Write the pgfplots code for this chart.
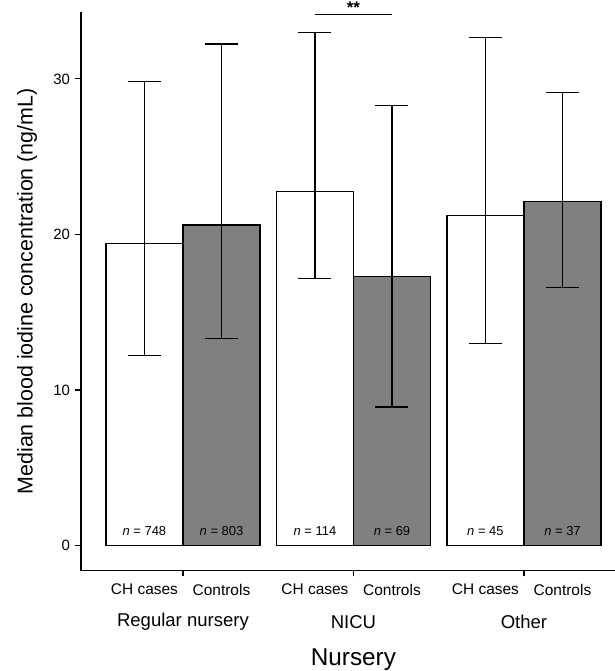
\documentclass[border=0pt]{standalone}
\usepackage{fontspec}
\setmainfont{Liberation Sans}
\usepackage{pgfplots}
\pgfplotsset{compat=1.18}
\definecolor{bargray}{RGB}{128,128,128}
\tikzset{
  nlab/.style={font=\fontsize{13}{15}\selectfont},
  clab/.style={font=\fontsize{15.5}{17}\selectfont, yshift=-18.8bp},
  glab/.style={font=\fontsize{18.6}{20}\selectfont, yshift=-51bp},
}
\begin{document}
\begin{tikzpicture}
\path[use as bounding box] (-81bp,-100.3bp) rectangle (534bp,570.7bp);
\begin{axis}[
  name=ax,
  at={(0,0)}, anchor=south west,
  scale only axis,
  width=534bp, height=558.7bp,
  xmin=0.402, xmax=3.534,
  ymin=-1.62, ymax=34.3,
  axis x line*=bottom, axis y line*=left,
  axis line style={line width=1.3bp},
  ytick={0,10,20,30},
  xtick={1,2,3}, xticklabels={},
  tick align=outside,
  major tick length=5.5bp,
  tick style={line width=1.2bp, black},
  yticklabel style={font=\fontsize{15}{17}\selectfont, xshift=-2bp},
  /pgf/number format/assume math mode=true,
  ylabel={Median blood iodine concentration (ng/mL)},
  ylabel style={font=\fontsize{21.5}{23}\selectfont, at={(axis description cs:-0.101,0.5)}, anchor=center},
  clip=false,
]
\addplot[ybar, bar width=0.452, bar shift=0pt, fill=white, draw=black, line width=1.5bp,
  error bars/.cd, y dir=both, y explicit,
  error bar style={line width=1.3bp, black},
  error mark options={rotate=90, line width=1.3bp, mark size=16.5bp, black}]
  coordinates {
  (0.774,19.43) += (0,10.40) -= (0,7.23)
  (1.774,22.75) += (0,10.25) -= (0,5.57)
  (2.774,21.21) += (0,11.45) -= (0,8.21)
  };
\addplot[ybar, bar width=0.452, bar shift=0pt, fill=bargray, draw=black, line width=1.5bp,
  error bars/.cd, y dir=both, y explicit,
  error bar style={line width=1.3bp, black},
  error mark options={rotate=90, line width=1.3bp, mark size=16.5bp, black}]
  coordinates {
  (1.226,20.59) += (0,11.66) -= (0,7.27)
  (2.226,17.31) += (0,10.97) -= (0,8.41)
  (3.226,22.13) += (0,6.99) -= (0,5.53)
  };
% significance bar
\draw[line width=1.3bp] (axis cs:1.774,34.16) -- (axis cs:2.226,34.16);
\node[anchor=south, font=\fontsize{17}{18}\selectfont\bfseries, inner sep=0pt, yshift=0bp] at (axis cs:2,34.16) {**};
% n labels
\node[nlab] at (axis cs:0.774,0.9) {\textit{n} = 748};
\node[nlab] at (axis cs:1.226,0.9) {\textit{n} = 803};
\node[nlab] at (axis cs:1.774,0.9) {\textit{n} = 114};
\node[nlab] at (axis cs:2.226,0.9) {\textit{n} = 69};
\node[nlab] at (axis cs:2.774,0.9) {\textit{n} = 45};
\node[nlab] at (axis cs:3.226,0.9) {\textit{n} = 37};
% category labels
\node[clab] at (axis cs:0.774,-1.62) {CH cases};
\node[clab] at (axis cs:1.226,-1.62) {Controls};
\node[clab] at (axis cs:1.774,-1.62) {CH cases};
\node[clab] at (axis cs:2.226,-1.62) {Controls};
\node[clab] at (axis cs:2.774,-1.62) {CH cases};
\node[clab] at (axis cs:3.226,-1.62) {Controls};
\node[glab] at (axis cs:1,-1.62) {Regular nursery};
\node[glab] at (axis cs:2,-1.62) {NICU};
\node[glab] at (axis cs:3,-1.62) {Other};
\node[font=\fontsize{24.4}{26}\selectfont, yshift=-89bp] at (axis cs:2,-1.62) {Nursery};
\end{axis}
\end{tikzpicture}
\end{document}
